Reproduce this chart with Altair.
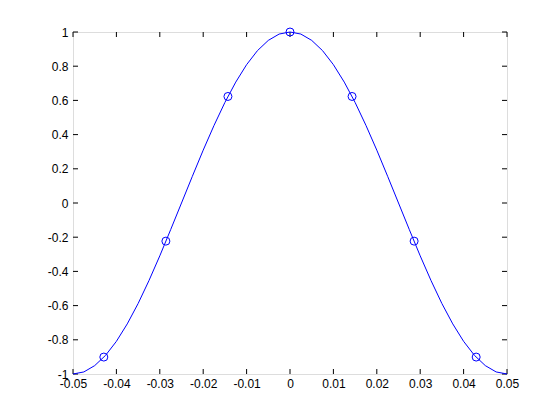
import altair as alt
import pandas as pd

# curve
curve_x = [-0.05, -0.0475, -0.045, -0.0425, -0.04, -0.0375, -0.035, -0.0325, -0.03, -0.0275,
           -0.025, -0.0225, -0.02, -0.0175, -0.015, -0.0125, -0.01, -0.0075, -0.005, -0.0025,
           0.0, 0.0025, 0.005, 0.0075, 0.01, 0.0125, 0.015, 0.0175, 0.02, 0.0225,
           0.025, 0.0275, 0.03, 0.0325, 0.035, 0.0375, 0.04, 0.0425, 0.045, 0.0475, 0.05]
curve_y = [-1.0, -0.988, -0.951, -0.891, -0.809, -0.707, -0.588, -0.454, -0.309, -0.156,
           0.0, 0.156, 0.309, 0.454, 0.588, 0.707, 0.809, 0.891, 0.951, 0.988,
           1.0, 0.988, 0.951, 0.891, 0.809, 0.707, 0.588, 0.454, 0.309, 0.156,
           0.0, -0.156, -0.309, -0.454, -0.588, -0.707, -0.809, -0.891, -0.951, -0.988, -1.0]

# sample markers
sample_x = [-0.0429, -0.0286, -0.0143, 0.0, 0.0143, 0.0286, 0.0429]
sample_y = [-0.901, -0.223, 0.623, 1.0, 0.623, -0.223, -0.901]

x_ticks = [-0.05, -0.04, -0.03, -0.02, -0.01, 0, 0.01, 0.02, 0.03, 0.04, 0.05]
y_ticks = [-1, -0.8, -0.6, -0.4, -0.2, 0, 0.2, 0.4, 0.6, 0.8, 1]

W, H = 434, 342
TICK = 5
FONT = "Liberation Sans"
FS = 12

curve = pd.DataFrame({"x": curve_x, "y": curve_y})
samples = pd.DataFrame({"x": sample_x, "y": sample_y})
xt = pd.DataFrame({"x": x_ticks})
yt = pd.DataFrame({"y": y_ticks})

xscale = alt.Scale(domain=[-0.05, 0.05], nice=False, zero=False)
yscale = alt.Scale(domain=[-1, 1], nice=False, zero=False)

xaxis = alt.Axis(values=x_ticks, title=None, grid=False, domain=False, ticks=False,
                 labelExpr="toString(datum.value)", labelFont=FONT, labelFontSize=FS,
                 labelColor="black", labelPadding=4, labelFlush=False, labelOverlap=False)
yaxis = alt.Axis(values=y_ticks, title=None, grid=False, domain=False, ticks=False,
                 labelExpr="toString(datum.value)", labelFont=FONT, labelFontSize=FS,
                 labelColor="black", labelPadding=5, labelFlush=False, labelOverlap=False)

X = lambda: alt.X("x:Q", scale=xscale, axis=xaxis)
Y = lambda: alt.Y("y:Q", scale=yscale, axis=yaxis)

line = alt.Chart(curve).mark_line(color="#0000ff", strokeWidth=1).encode(x=X(), y=Y())
pts = alt.Chart(samples).mark_point(shape="circle", filled=False, color="#0000ff",
                                    size=64, strokeWidth=1, opacity=1).encode(x=X(), y=Y())

bot = alt.Chart(xt).mark_rule(color="black", strokeWidth=1).encode(
    x=X(), y=alt.value(H), y2=alt.value(H - TICK))
top = alt.Chart(xt).mark_rule(color="black", strokeWidth=1).encode(
    x=X(), y=alt.value(0), y2=alt.value(TICK))
left = alt.Chart(yt).mark_rule(color="black", strokeWidth=1).encode(
    y=Y(), x=alt.value(0), x2=alt.value(TICK))
right = alt.Chart(yt).mark_rule(color="black", strokeWidth=1).encode(
    y=Y(), x=alt.value(W), x2=alt.value(W - TICK))

chart = alt.layer(bot, top, left, right, line, pts).properties(
    width=W, height=H,
    autosize=alt.AutoSizeParams(type="none"),
    padding={"left": 65, "top": 24, "right": 45, "bottom": 38},
).configure_view(stroke="black", strokeWidth=1).configure(background="white")

chart.save("out.html", embed_options={"renderer": "svg", "actions": False})
